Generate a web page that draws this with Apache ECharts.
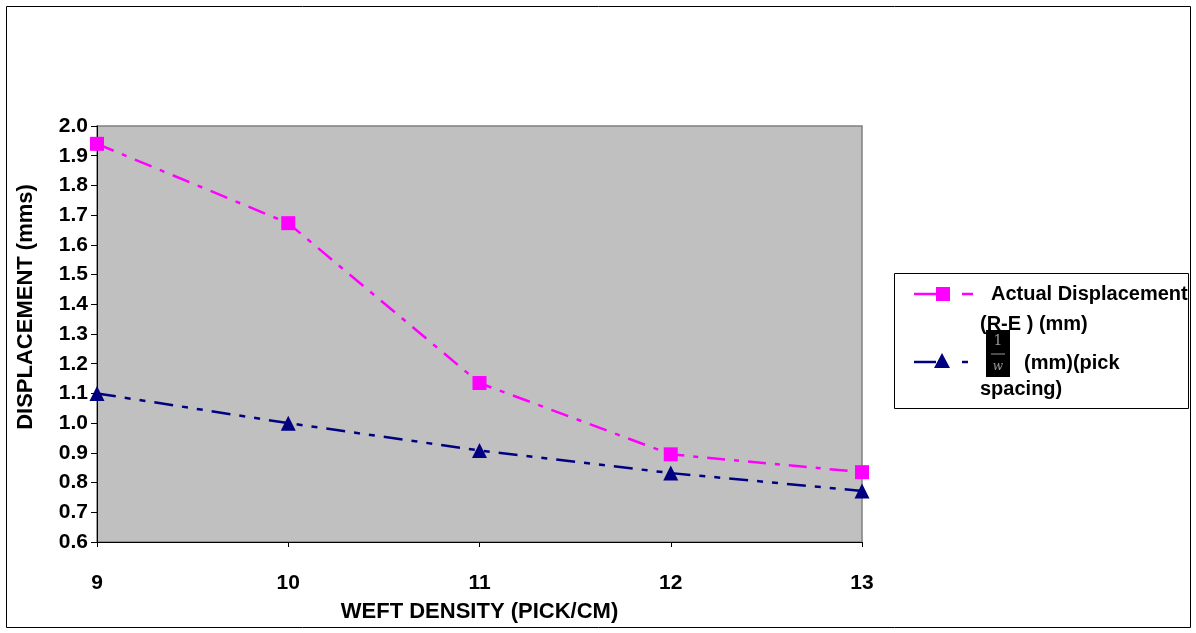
<!DOCTYPE html>
<html><head><meta charset="utf-8">
<script src="https://cdn.jsdelivr.net/npm/echarts@6/dist/echarts.min.js"></script>
<style>html,body{margin:0;padding:0;background:#fff}#c{width:1196px;height:633px}</style>
</head><body><div id="c"></div>
<script>
const categories = ['9', '10', '11', '12', '13'];
const actualDisplacement = [1.94, 1.673, 1.135, 0.895, 0.835];
const pickSpacing = [1.10, 1.00, 0.908, 0.832, 0.772];
const yTicks = { min: 0.6, max: 2.0, step: 0.1 };

const FONT = '"Liberation Sans", Arial, sans-serif';
const chart = echarts.init(document.getElementById('c'));
chart.setOption({
  animation: false,
  backgroundColor: '#fff',
  grid: { left: 97, right: 334, top: 126, bottom: 91, containLabel: false, outerBoundsMode: 'none',
    show: true, backgroundColor: '#C0C0C0', borderColor: '#808080', borderWidth: 1.5 },
  xAxis: {
    type: 'category', data: categories, boundaryGap: false,
    name: 'WEFT DENSITY (PICK/CM)', nameLocation: 'middle', nameGap: 59,
    nameTextStyle: { fontFamily: FONT, fontWeight: 'bold', fontSize: 22, color: '#000' },
    axisLine: { lineStyle: { color: '#000', width: 1 } },
    axisTick: { show: true, alignWithLabel: true, length: 5, lineStyle: { color: '#000' } },
    axisLabel: { fontFamily: FONT, fontWeight: 'bold', fontSize: 21, color: '#000', margin: 31 },
    splitLine: { show: false }
  },
  yAxis: {
    type: 'value', min: yTicks.min, max: yTicks.max, interval: yTicks.step,
    axisLine: { show: true, lineStyle: { color: '#000', width: 1 } },
    axisTick: { show: true, length: 6, lineStyle: { color: '#000' } },
    axisLabel: { fontFamily: FONT, fontWeight: 'bold', fontSize: 21, color: '#000', margin: 9,
      formatter: v => v.toFixed(1) },
    splitLine: { show: false }
  },
  series: [
    { name: 'Actual Displacement (R-E ) (mm)', type: 'line', data: actualDisplacement,
      symbol: 'rect', symbolSize: 14, itemStyle: { color: '#FF00FF' },
      lineStyle: { color: '#FF00FF', width: 2.5, type: [18, 9, 5, 9] } },
    { name: '1/w (mm)(pick spacing)', type: 'line', data: pickSpacing,
      symbol: 'triangle', symbolSize: 15, itemStyle: { color: '#000080' },
      lineStyle: { color: '#000080', width: 2.5, type: [19, 9, 6, 9, 6, 9] } }
  ],
  graphic: [
    { type: 'rect', shape: { x: 6.5, y: 6.5, width: 1184, height: 621 }, style: { fill: 'none', stroke: '#000', lineWidth: 1 } },
    { type: 'text', x: 26, y: 307, rotation: Math.PI / 2,
      style: { x: 0, y: 0, text: 'DISPLACEMENT (mms)', font: 'bold 22px ' + FONT, fill: '#000', align: 'center', verticalAlign: 'middle' } },
    { type: 'rect', shape: { x: 894.5, y: 273.5, width: 294, height: 135 }, style: { fill: '#fff', stroke: '#000', lineWidth: 1 } },
    { type: 'line', shape: { x1: 914, y1: 294, x2: 936, y2: 294 }, style: { stroke: '#FF00FF', lineWidth: 2.5 } },
    { type: 'rect', shape: { x: 936, y: 287, width: 14, height: 14 }, style: { fill: '#FF00FF' } },
    { type: 'line', shape: { x1: 962, y1: 294, x2: 973, y2: 294 }, style: { stroke: '#FF00FF', lineWidth: 2.5 } },
    { type: 'text', style: { x: 991, y: 294, text: 'Actual Displacement', font: 'bold 20px ' + FONT, fill: '#000', verticalAlign: 'middle' } },
    { type: 'text', style: { x: 980, y: 324, text: '(R-E ) (mm)', font: 'bold 20px ' + FONT, fill: '#000', verticalAlign: 'middle' } },
    { type: 'line', shape: { x1: 914, y1: 362, x2: 936, y2: 362 }, style: { stroke: '#000080', lineWidth: 2.5 } },
    { type: 'polygon', shape: { points: [[942, 353], [950, 368], [934, 368]] }, style: { fill: '#000080' } },
    { type: 'line', shape: { x1: 962, y1: 362, x2: 968, y2: 362 }, style: { stroke: '#000080', lineWidth: 2.5 } },
    { type: 'rect', shape: { x: 986, y: 330, width: 24, height: 47 }, style: { fill: '#000' } },
    { type: 'text', style: { x: 998, y: 341, text: '1', font: '14px "DejaVu Serif", serif', fill: '#999', align: 'center', verticalAlign: 'middle' } },
    { type: 'line', shape: { x1: 991, y1: 354, x2: 1005, y2: 354 }, style: { stroke: '#999', lineWidth: 1 } },
    { type: 'text', style: { x: 998, y: 367, text: 'w', font: 'italic 12px "DejaVu Serif", serif', fill: '#999', align: 'center', verticalAlign: 'middle' } },
    { type: 'text', style: { x: 1024, y: 363, text: '(mm)(pick', font: 'bold 20px ' + FONT, fill: '#000', verticalAlign: 'middle' } },
    { type: 'text', style: { x: 980, y: 389, text: 'spacing)', font: 'bold 20px ' + FONT, fill: '#000', verticalAlign: 'middle' } }
  ]
});
</script></body></html>
